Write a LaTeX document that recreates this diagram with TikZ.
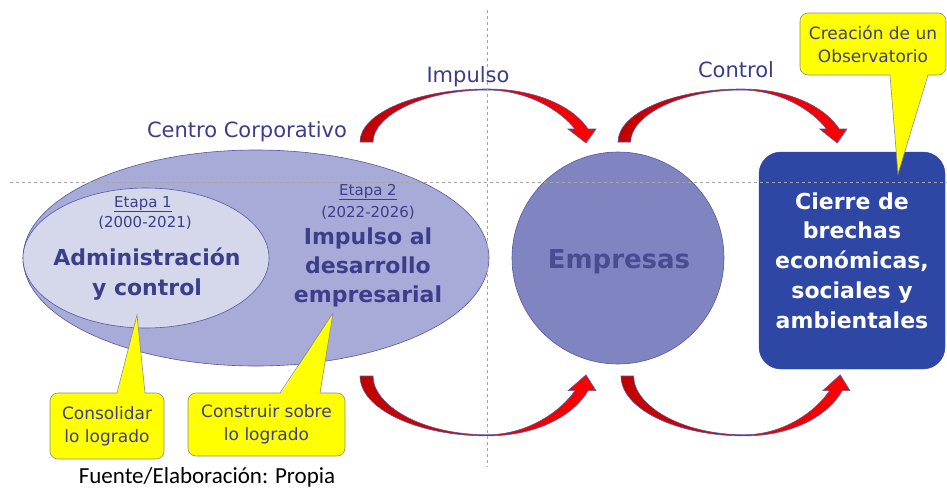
\documentclass[tikz,border=0pt]{standalone}
\usepackage{fontspec}
\setmainfont{DejaVu Sans}
\newfontfamily\fuentefont{Carlito}
\usetikzlibrary{shapes.geometric}
\definecolor{txtblue}{RGB}{60,62,140}
\definecolor{outerfill}{RGB}{168,171,216}
\definecolor{innerfill}{RGB}{213,215,235}
\definecolor{circfill}{RGB}{128,133,194}
\definecolor{empresastxt}{RGB}{72,76,147}
\definecolor{boxfill}{RGB}{46,70,164}
\definecolor{edgeblue}{RGB}{85,88,160}
\definecolor{darkred}{RGB}{192,0,0}
\definecolor{brightred}{RGB}{255,0,0}
\definecolor{calloutyellow}{RGB}{255,255,0}
\definecolor{calloutedge}{RGB}{140,140,140}
\definecolor{guide}{RGB}{165,165,165}
\tikzset{
  lbl/.style={anchor=base, inner sep=0pt, text=txtblue},
  regtxt/.style={font=\fontsize{21}{25}\selectfont},
  smalltxt/.style={font=\fontsize{15}{18}\selectfont},
  boldtxt/.style={font=\fontsize{22}{26}\selectfont\bfseries},
  shapeedge/.style={draw=edgeblue, line width=0.6pt},
  callout/.style={draw=calloutedge, fill=calloutyellow, rounded corners=8pt,
    line width=0.6pt, text=txtblue, font=\fontsize{17}{23}\selectfont,
    align=center, inner sep=0pt},
  pointerfill/.style={fill=calloutyellow},
  pointeredge/.style={draw=calloutedge, line width=0.6pt},
  guideline/.style={draw=guide, line width=0.6pt, dash pattern=on 3pt off 3pt},
  pics/curvarrow/.style={code={
    \draw[line width=0.6pt, draw=edgeblue, left color=darkred, right color=brightred]
      (0,0) .. controls (0,-29) and (57,-53) .. (127,-53)
      .. controls (180,-53) and (215,-33) .. (228,-13)
      -- (236,-13) -- (226,1) -- (208,-13) -- (215,-13)
      .. controls (201,-31) and (168,-52) .. (127,-52)
      .. controls (62,-52) and (13,-26) .. (13,0) -- cycle;
  }}
}
\begin{document}
\begin{tikzpicture}[x=1pt, y=-1pt]
\useasboundingbox (0,0) rectangle (947,490);
\fill[white] (0,0) rectangle (947,490);

% main shapes
\node[ellipse, shapeedge, fill=outerfill, minimum width=466pt, minimum height=216pt, inner sep=0pt] (centro) at (256,258) {};
\node[ellipse, shapeedge, fill=innerfill, minimum width=246pt, minimum height=140pt, inner sep=0pt] (etapa1) at (146,258) {};
\node[circle, shapeedge, fill=circfill, minimum size=212pt, inner sep=0pt] (emp) at (618,258) {};
\node[draw=boxfill, fill=boxfill, rounded corners=22pt, minimum width=186pt, minimum height=217pt,
      text=white, font=\fontsize{22}{29.75}\selectfont\bfseries, align=center, inner sep=0pt]
      (cierre) at (852,260.5) {Cierre de\\brechas\\económicas,\\sociales y\\ambientales};

% curved arrows
\pic[shift={(360,142)}] (impulsoarrow) {curvarrow};
\pic[shift={(618,142)}, xscale=0.97] (controlarrow) {curvarrow};
\pic[shift={(360,376)}, yscale=-1.13] (bottomleftarrow) {curvarrow};
\pic[shift={(621,376)}, xscale=0.97, yscale=-1.13] (bottomrightarrow) {curvarrow};

% callouts
\node[callout, minimum width=146pt, minimum height=62pt] (obs) at (873,44) {Creación de un\\Observatorio};
\fill[pointerfill] (890,73) -- (898,174) -- (928,73) -- cycle;
\draw[pointeredge] (890,75) -- (898,174) -- (928,75);

\node[callout, minimum width=114pt, minimum height=66pt] (consol) at (107,426) {Consolidar\\lo logrado};
\fill[pointerfill] (117,395) -- (137,315) -- (145,395) -- cycle;
\draw[pointeredge] (117,393) -- (137,315) -- (145,393);

\node[callout, minimum width=157pt, minimum height=63pt] (constr) at (266.5,424.5) {Construir sobre\\lo logrado};
\fill[pointerfill] (280,395) -- (333,313) -- (320,395) -- cycle;
\draw[pointeredge] (280,393) -- (333,313) -- (320,393);

% guide lines
\coordinate (hstart) at (10,182);
\coordinate (hend) at (947,182);
\coordinate (vstart) at (487,10);
\coordinate (vend) at (487,467);
\draw[guideline] (hstart) -- (hend);
\draw[guideline] (vstart) -- (vend);

% texts
\node[lbl, regtxt] (centrolbl) at (247,137) {Centro Corporativo};
\node[lbl, regtxt] (impulsolbl) at (468,82) {Impulso};
\node[lbl, regtxt] (controllbl) at (736,77) {Control};

\node[lbl, smalltxt] (et1) at (143,207) {\underline{Etapa 1}};
\node[lbl, smalltxt] (et1y) at (145,227) {(2000-2021)};
\node[lbl, boldtxt] (adm1) at (147,265) {Administración};
\node[lbl, boldtxt] (adm2) at (147,295) {y control};

\node[lbl, smalltxt] (et2) at (368,195) {\underline{Etapa 2}};
\node[lbl, smalltxt] (et2y) at (368,217) {(2022-2026)};
\node[lbl, boldtxt] (imp1) at (368,244) {Impulso al};
\node[lbl, boldtxt] (imp2) at (368,273) {desarrollo};
\node[lbl, boldtxt] (imp3) at (368,302) {empresarial};

\node[anchor=base, inner sep=0pt, text=empresastxt, font=\fontsize{26}{30}\selectfont\bfseries] (emptxt) at (619,268) {Empresas};

\node[anchor=base, inner sep=0pt, text=black, font=\fuentefont\fontsize{23}{27}\selectfont] (fuente) at (207,483) {Fuente/Elaboración: Propia};
\end{tikzpicture}
\end{document}
